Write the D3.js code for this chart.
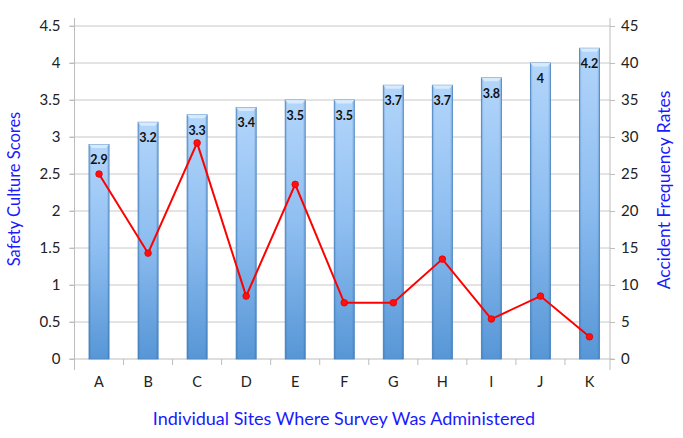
<!DOCTYPE html>
<html><head><meta charset="utf-8">
<script src="https://cdn.jsdelivr.net/npm/d3@7"></script>
<style>body{margin:0;background:#fff}svg{display:block}</style>
</head><body><svg id="c" width="683" height="438"></svg>
<script>
const categories = ["A","B","C","D","E","F","G","H","I","J","K"];
const scores = [2.9,3.2,3.3,3.4,3.5,3.5,3.7,3.7,3.8,4,4.2];
const accidents = [25.0,14.3,29.2,8.5,23.6,7.6,7.6,13.5,5.4,8.5,3.0];
const leftTicks = [0,0.5,1,1.5,2,2.5,3,3.5,4,4.5];
const rightTicks = [0,5,10,15,20,25,30,35,40,45];

const font = "Lato, 'Open Sans', sans-serif";
const svg = d3.select("#c");
const x0 = 74.5, x1 = 614, yTop = 26, yBot = 359, rightX = 610;
const x = d3.scaleBand().domain(categories).range([x0, x1]).paddingInner(0.59).paddingOuter(0.295);
const yL = d3.scaleLinear().domain([0,4.5]).range([yBot, yTop]);
const yR = d3.scaleLinear().domain([0,45]).range([yBot, yTop]);

const defs = svg.append("defs");
const gv = defs.append("linearGradient").attr("id","gv").attr("x1",0).attr("y1",0).attr("x2",0).attr("y2",1);
gv.append("stop").attr("offset",0).attr("stop-color","#b3d6fb");
gv.append("stop").attr("offset",0.5).attr("stop-color","#8dbdf0");
gv.append("stop").attr("offset",1).attr("stop-color","#5796d6");
const gh = defs.append("linearGradient").attr("id","gh").attr("x1",0).attr("y1",0).attr("x2",1).attr("y2",0);
gh.append("stop").attr("offset",0).attr("stop-color","#1f5f9f").attr("stop-opacity",0.35);
gh.append("stop").attr("offset",0.12).attr("stop-color","#1f5f9f").attr("stop-opacity",0);
gh.append("stop").attr("offset",0.88).attr("stop-color","#1f5f9f").attr("stop-opacity",0);
gh.append("stop").attr("offset",1).attr("stop-color","#1f5f9f").attr("stop-opacity",0.35);

// gridlines
svg.append("g").selectAll("line").data(leftTicks.slice(1)).join("line")
  .attr("x1", x0 - 5).attr("x2", rightX).attr("y1", d=>yL(d)).attr("y2", d=>yL(d))
  .attr("stroke","#c8c8c8").attr("stroke-width",1);

// left axis
const axL = svg.append("g").attr("transform",`translate(${x0},0)`)
  .call(d3.axisLeft(yL).tickValues(leftTicks).tickSize(5).tickPadding(9).tickFormat(d=>String(d)));
axL.select(".domain").remove();
axL.selectAll(".tick line").attr("stroke","#bdbdbd");
axL.selectAll("text").attr("font-family",font).attr("font-size",15).attr("fill","#222");
svg.append("line").attr("x1",x0).attr("x2",x0).attr("y1",18).attr("y2",370).attr("stroke","#bdbdbd");

// right axis
const axR = svg.append("g").attr("transform",`translate(${rightX},0)`)
  .call(d3.axisRight(yR).tickValues(rightTicks).tickSize(5).tickPadding(6).tickFormat(d=>String(d)));
axR.select(".domain").remove();
axR.selectAll(".tick line").attr("stroke","#bdbdbd");
axR.selectAll("text").attr("font-family",font).attr("font-size",15).attr("fill","#222");
svg.append("line").attr("x1",rightX).attr("x2",rightX).attr("y1",18).attr("y2",370).attr("stroke","#bdbdbd");

// bottom axis
svg.append("line").attr("x1",x0-5).attr("x2",x1).attr("y1",yBot).attr("y2",yBot).attr("stroke","#bdbdbd");
const bounds = categories.slice(1).map(c => x(c) - x.step()*x.paddingInner()/2);
svg.append("g").selectAll("line").data(bounds).join("line")
  .attr("x1",d=>d).attr("x2",d=>d).attr("y1",yBot).attr("y2",yBot+6).attr("stroke","#bdbdbd");
svg.append("g").selectAll("text").data(categories).join("text")
  .attr("x",d=>x(d)+x.bandwidth()/2).attr("y",387).attr("text-anchor","middle")
  .attr("font-family",font).attr("font-size",14.5).attr("fill","#222").text(d=>d);

// bars
const bars = svg.append("g");
bars.selectAll("rect.b").data(scores).join("rect").attr("class","b")
  .attr("x",(d,i)=>x(categories[i])).attr("width",x.bandwidth())
  .attr("y",d=>yL(d)).attr("height",d=>yBot-yL(d))
  .attr("fill","url(#gv)").attr("stroke","#4f88c4").attr("stroke-width",0.8);
bars.selectAll("rect.h").data(scores).join("rect").attr("class","h")
  .attr("x",(d,i)=>x(categories[i])).attr("width",x.bandwidth())
  .attr("y",d=>yL(d)).attr("height",d=>yBot-yL(d)).attr("fill","url(#gh)");
bars.selectAll("path.top").data(scores).join("path").attr("class","top")
  .attr("d",(d,i)=>{const a=x(categories[i]), w=x.bandwidth(), t=yL(d);
    return `M${a},${t}L${a+w},${t}L${a+w-3},${t+3.5}L${a+3},${t+3.5}Z`;})
  .attr("fill","#dcecfd").attr("opacity",0.9);
bars.selectAll("text").data(scores).join("text")
  .attr("x",(d,i)=>x(categories[i])+x.bandwidth()/2).attr("y",d=>yL(d)+20)
  .attr("text-anchor","middle").attr("font-family",font).attr("font-weight","bold")
  .attr("font-size",12.5).attr("fill","#111").text(d=>String(d));

// line
const line = d3.line().x((d,i)=>x(categories[i])+x.bandwidth()/2).y(d=>yR(d));
svg.append("path").datum(accidents).attr("d",line).attr("fill","none")
  .attr("stroke","#ff0000").attr("stroke-width",2);
svg.append("g").selectAll("circle").data(accidents).join("circle")
  .attr("cx",(d,i)=>x(categories[i])+x.bandwidth()/2).attr("cy",d=>yR(d)).attr("r",3.3)
  .attr("fill","#ff1010").attr("stroke","#e00000").attr("stroke-width",0.8);

// titles
svg.append("text").attr("transform","translate(20,189) rotate(-90)").attr("text-anchor","middle")
  .attr("font-family",font).attr("font-size",16.5).attr("fill","#1a1aff").text("Safety Culture Scores");
svg.append("text").attr("transform","translate(670,190) rotate(-90)").attr("text-anchor","middle")
  .attr("font-family",font).attr("font-size",17.5).attr("fill","#1a1aff").text("Accident Frequency Rates");
svg.append("text").attr("x",344).attr("y",425).attr("text-anchor","middle")
  .attr("font-family",font).attr("font-size",18).attr("fill","#1a1aff").text("Individual Sites Where Survey Was Administered");
</script></body></html>
